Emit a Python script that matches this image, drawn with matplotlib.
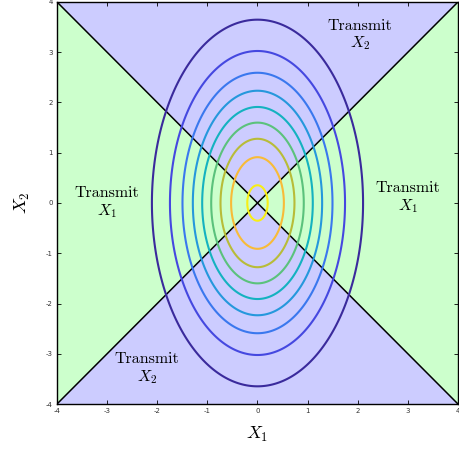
import numpy as np
import matplotlib
matplotlib.use("Agg")
import matplotlib.pyplot as plt

plt.rcParams["mathtext.fontset"] = "cm"
plt.rcParams["axes.unicode_minus"] = False

# Gaussian: variances and density levels
var_x1 = 1.0
var_x2 = 3.0
levels = [0.01, 0.02, 0.03, 0.04, 0.05, 0.06, 0.07, 0.08, 0.09]
level_colors = ["#3a2a9c", "#4548e0", "#3a78ee", "#2598dc", "#14b2c0",
                "#5bc27c", "#b8bc38", "#f8bb38", "#f7ee16"]

lim = [-4, 4]
ticks = [-4, -3, -2, -1, 0, 1, 2, 3, 4]

# region labels: (x, y, text)
labels = [
    (-3.0, 0.0, "Transmit\n$X_1$"),
    (3.0, 0.1, "Transmit\n$X_1$"),
    (2.05, 3.33, "Transmit\n$X_2$"),
    (-2.2, -3.3, "Transmit\n$X_2$"),
]

fig = plt.figure(figsize=(4.6, 4.51), dpi=100)
ax = fig.add_axes([0.1239, 0.1042, 0.8717, 0.8914])

# decision regions: transmit the coordinate with the larger magnitude
g = np.linspace(lim[0], lim[1], 401)
gx, gy = np.meshgrid(g, g)
ax.contourf(gx, gy, np.abs(gx) - np.abs(gy), levels=[-10, 0, 10],
            colors=["#ccccff", "#ccffcc"])
ax.plot(lim, lim, color="k", lw=1.1)
ax.plot(lim, lim[::-1], color="k", lw=1.1)

dens = np.exp(-0.5 * (gx**2 / var_x1 + gy**2 / var_x2)) / (
    2 * np.pi * np.sqrt(var_x1 * var_x2))
ax.contour(gx, gy, dens, levels=levels, colors=level_colors, linewidths=1.5)

for x, y, s in labels:
    ax.text(x, y, s, ha="center", va="center", fontsize=11.5,
            family="cmr10", linespacing=1.15)

ax.set_xlim(lim)
ax.set_ylim(lim)
ax.set_xticks(ticks)
ax.set_yticks(ticks)
ax.tick_params(direction="in", length=3, width=0.6, labelsize=5,
               labelcolor="#333333", top=True, right=True, pad=3)
for sp in ax.spines.values():
    sp.set_linewidth(1.0)
ax.set_xlabel("$X_1$", fontsize=13, labelpad=8)
ax.set_ylabel("$X_2$", fontsize=13, labelpad=10)

fig.savefig("out.png", dpi=100)
